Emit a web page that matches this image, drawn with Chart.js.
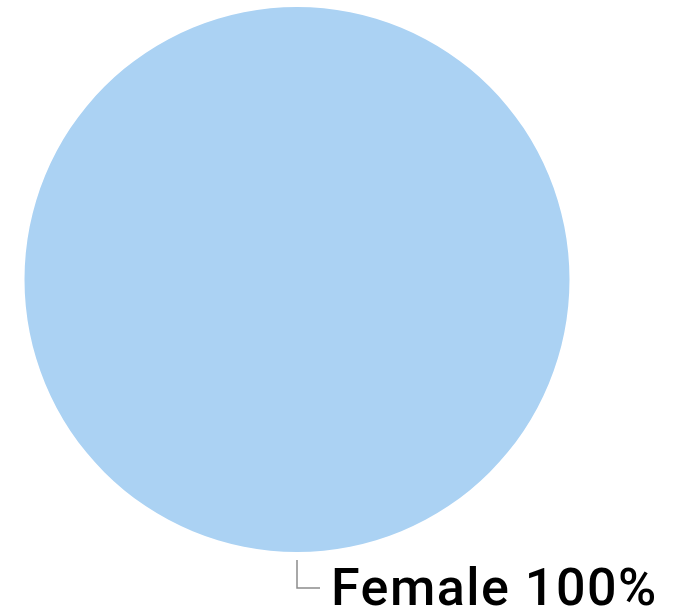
<!DOCTYPE html>
<html>
<head>
<meta charset="utf-8">
<script src="https://cdn.jsdelivr.net/npm/chart.js@4"></script>
<style>
  html, body { margin: 0; padding: 0; background: #fff; }
  #wrap { width: 673px; height: 609px; }
</style>
</head>
<body>
<div id="wrap"><canvas id="pie" width="673" height="609"></canvas></div>
<script>
const categories = ['Female'];
const shares = [100];
const colors = ['#abd2f3'];

// draw the leader line + label under the slice
const calloutLabels = {
  id: 'calloutLabels',
  afterDatasetsDraw(chart) {
    const ctx = chart.ctx;
    const meta = chart.getDatasetMeta(0);
    meta.data.forEach((arc, i) => {
      const mid = (arc.startAngle + arc.endAngle) / 2;
      // single full slice: put the label at the bottom
      const ang = shares.length === 1 ? Math.PI / 2 : mid;
      const x0 = arc.x + Math.cos(ang) * (arc.outerRadius + 8);
      const y0 = arc.y + Math.sin(ang) * (arc.outerRadius + 8);
      const y1 = y0 + 28;
      const x1 = x0 + 23;
      ctx.save();
      ctx.strokeStyle = '#8c8c8c';
      ctx.lineWidth = 1.5;
      ctx.beginPath();
      ctx.moveTo(x0, y0);
      ctx.lineTo(x0, y1);
      ctx.lineTo(x1, y1);
      ctx.stroke();
      const text = categories[i] + ' ' + shares[i] + '%';
      ctx.font = '500 52px Roboto';
      ctx.letterSpacing = '1.5px';
      ctx.fillStyle = '#000';
      ctx.textBaseline = 'alphabetic';
      ctx.textAlign = 'left';
      ctx.fillText(text, x1 + 11, y1 + 17);
      ctx.restore();
    });
  }
};

new Chart(document.getElementById('pie'), {
  type: 'pie',
  data: {
    labels: categories,
    datasets: [{
      data: shares,
      backgroundColor: colors,
      borderWidth: 0
    }]
  },
  options: {
    responsive: false,
    animation: false,
    layout: { padding: { top: 7, bottom: 57, left: 24, right: 103 } },
    plugins: {
      legend: { display: false },
      tooltip: { enabled: false }
    }
  },
  plugins: [calloutLabels]
});
</script>
</body>
</html>
